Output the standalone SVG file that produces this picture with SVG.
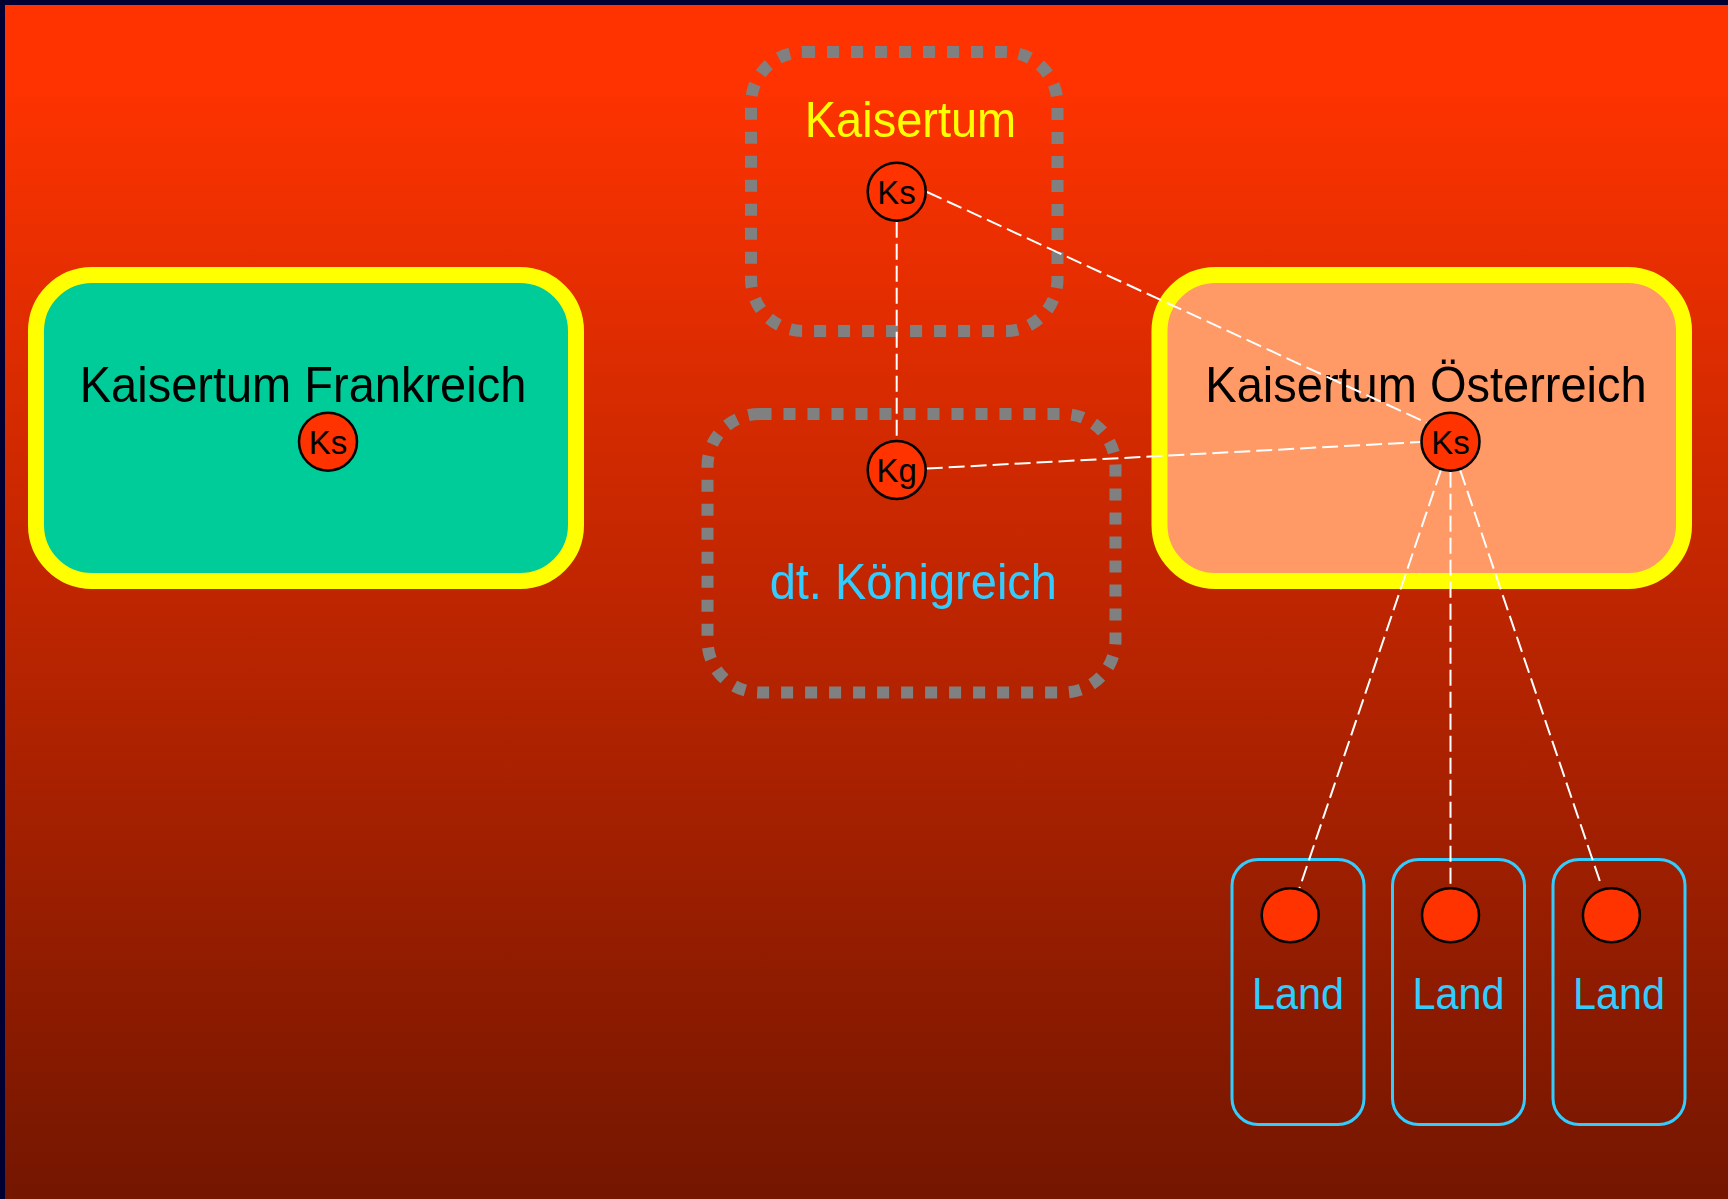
<svg xmlns="http://www.w3.org/2000/svg" width="1728" height="1199" viewBox="0 0 1728 1199">
  <defs>
    <linearGradient id="bg" gradientUnits="userSpaceOnUse" x1="0" y1="5" x2="0" y2="1199">
      <stop offset="0" stop-color="#FF3300"/>
      <stop offset="0.06" stop-color="#FF3300"/>
      <stop offset="1" stop-color="#741600"/>
    </linearGradient>
  </defs>
  <style>
    text { font-family: "Liberation Sans", Arial, Helvetica, sans-serif; text-anchor: middle; }
    .state { stroke: #FFFF00; stroke-width: 16; }
    .group { fill: none; stroke: #808080; stroke-width: 12; stroke-dasharray: 12 12; }
    .land { fill: none; stroke: #33CCFF; stroke-width: 3; }
    .dot { fill: #FF3300; stroke: #000000; stroke-width: 2.5; }
    .big { font-size: 50px; }
    .small { font-size: 33px; fill: #000000; }
    .landtxt { font-size: 44px; fill: #33CCFF; }
    .conn { stroke: #FFFFFF; stroke-width: 2; stroke-dasharray: 16 6; fill: none; }
  </style>

  <rect x="0" y="0" width="1728" height="1199" fill="#000033"/>
  <rect x="5" y="5" width="1723" height="1194" fill="url(#bg)"/>

  <g id="kaisertum-frankreich">
    <rect class="state" x="36" y="275" width="540" height="306" rx="56" ry="56" fill="#00CC99"/>
    <text class="big" transform="translate(303 402) scale(0.94 1)" fill="#000000">Kaisertum Frankreich</text>
  </g>

  <g id="kaisertum-oesterreich">
    <rect class="state" x="1159.5" y="275" width="524.5" height="306" rx="56" ry="56" fill="#FF9966"/>
    <text class="big" transform="translate(1426 402) scale(0.94 1)" fill="#000000">Kaisertum Österreich</text>
  </g>

  <g id="kaisertum">
    <rect class="group" x="751" y="52" width="306.5" height="279" rx="52" ry="52"/>
    <text class="big" transform="translate(910.5 137) scale(0.94 1)" fill="#FFFF00">Kaisertum</text>
  </g>

  <g id="dt-koenigreich">
    <rect class="group" x="707.5" y="414" width="408" height="278.5" rx="52" ry="52"/>
    <text class="big" transform="translate(913.3 598.5) scale(0.94 1)" fill="#33CCFF">dt. Königreich</text>
  </g>

  <g id="land-1">
    <rect class="land" x="1232" y="859.5" width="132" height="265" rx="26" ry="26"/>
    <text class="landtxt" transform="translate(1298 1008.5) scale(0.94 1)">Land</text>
  </g>
  <g id="land-2">
    <rect class="land" x="1392.5" y="859.5" width="132" height="265" rx="26" ry="26"/>
    <text class="landtxt" transform="translate(1458.4 1008.5) scale(0.94 1)">Land</text>
  </g>
  <g id="land-3">
    <rect class="land" x="1553" y="859.5" width="132" height="265" rx="26" ry="26"/>
    <text class="landtxt" transform="translate(1619 1008.5) scale(0.94 1)">Land</text>
  </g>

  <g id="connectors">
    <line class="conn" x1="927" y1="192" x2="1427" y2="423"/>
    <line class="conn" x1="896.7" y1="221.7" x2="896.7" y2="441"/>
    <line class="conn" x1="926.7" y1="468.5" x2="1420.5" y2="442"/>
    <line class="conn" x1="1440.9" y1="470.1" x2="1299.5" y2="888"/>
    <line class="conn" x1="1450.5" y1="471.7" x2="1450.5" y2="886"/>
    <line class="conn" x1="1460.2" y1="470.1" x2="1601.5" y2="886"/>
  </g>

  <g id="ks-frankreich">
    <circle class="dot" cx="328" cy="441.7" r="29"/>
    <text class="small" x="328" y="453.5">Ks</text>
  </g>
  <g id="ks-kaisertum">
    <circle class="dot" cx="896.7" cy="191.7" r="29"/>
    <text class="small" x="896.5" y="203.5">Ks</text>
  </g>
  <g id="kg-koenigreich">
    <circle class="dot" cx="896.7" cy="470" r="29"/>
    <text class="small" x="896.7" y="482">Kg</text>
  </g>
  <g id="ks-oesterreich">
    <circle class="dot" cx="1450.5" cy="441.7" r="29"/>
    <text class="small" x="1450.5" y="453.5">Ks</text>
  </g>
  <g id="land-1-dot">
    <ellipse class="dot" cx="1290.2" cy="915.3" rx="28.5" ry="27"/>
  </g>
  <g id="land-2-dot">
    <ellipse class="dot" cx="1450.5" cy="915.3" rx="28.5" ry="27"/>
  </g>
  <g id="land-3-dot">
    <ellipse class="dot" cx="1611.4" cy="915.3" rx="28.5" ry="27"/>
  </g>
</svg>
